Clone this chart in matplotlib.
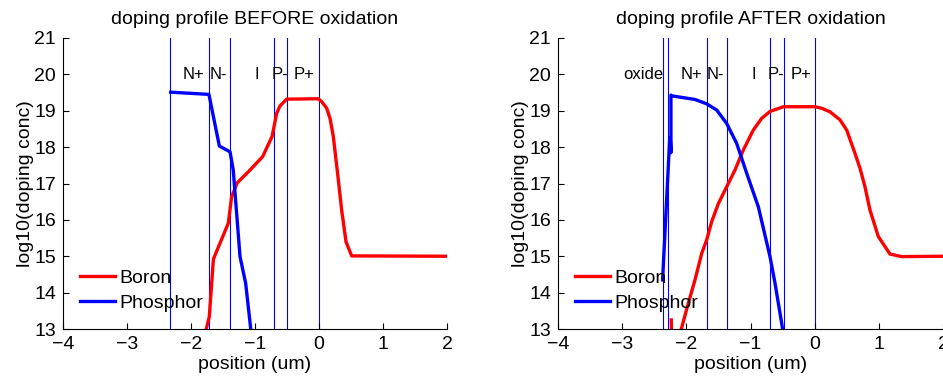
import matplotlib
matplotlib.use("Agg")
import matplotlib.pyplot as plt

plt.rcParams['font.family'] = ['Liberation Sans', 'DejaVu Sans']

# before oxidation
boron_x_before = [-1.78, -1.766, -1.714, -1.65, -1.417, -1.365, -1.277, -1.105, -0.88, -0.734,
                  -0.661, -0.61, -0.505, -0.01, 0.042, 0.12, 0.172, 0.224, 0.302, 0.354,
                  0.422, 0.51, 2.0]
boron_y_before = [12.8, 12.97, 13.34, 14.92, 15.91, 16.64, 17.02, 17.32, 17.74, 18.29,
                  18.93, 19.13, 19.32, 19.33, 19.25, 19.07, 18.79, 18.29, 17.10, 16.27,
                  15.40, 15.01, 15.0]
phos_x_before = [-2.317, -1.72, -1.557, -1.39, -1.34, -1.234, -1.146, -1.06]
phos_y_before = [19.51, 19.45, 18.03, 17.87, 17.37, 14.99, 14.26, 12.9]
lines_before = [-2.33, -1.72, -1.39, -0.70, -0.50, 0.0]
labels_before = ['N+', 'N-', 'I', 'P-', 'P+']
label_x_before = [-1.956, -1.578, -0.969, -0.617, -0.239]

# after oxidation
boron_x_after = [-2.235, -2.225, -2.15, -2.12, -2.083, -1.969, -1.865, -1.76, -1.683, -1.605,
                 -1.5, -1.371, -1.242, -1.112, -0.956, -0.826, -0.696, -0.489, 0.005,
                 0.109, 0.239, 0.395, 0.499, 0.628, 0.706, 0.784, 0.862, 0.992, 1.174,
                 1.356, 2.0]
boron_y_after = [13.25, 12.2, 12.3, 12.7, 12.97, 13.71, 14.35, 15.08, 15.45, 15.95,
                 16.45, 16.91, 17.37, 17.92, 18.47, 18.79, 18.98, 19.11, 19.11,
                 19.07, 18.97, 18.75, 18.47, 17.83, 17.42, 16.91, 16.27, 15.54, 15.06,
                 14.99, 15.0]
phos_x_after = [-2.37, -2.26, -2.25, -2.24, -2.24, -2.228, -1.865, -1.683, -1.527, -1.371,
                -1.215, -1.059, -0.878, -0.696, -0.618, -0.49]
phos_y_after = [14.35, 18.2, 18.25, 17.85, 19.43, 19.41, 19.31, 19.19, 19.02, 18.65,
                18.10, 17.28, 16.36, 14.99, 14.26, 12.9]
lines_after = [-2.36, -2.29, -1.68, -1.37, -0.69, -0.48, 0.0]
labels_after = ['oxide', 'N+', 'N-', 'I', 'P-', 'P+']
label_x_after = [-2.67, -1.917, -1.549, -0.946, -0.598, -0.216]

W, H = 943, 381
fig = plt.figure(figsize=(W / 100, H / 100), dpi=100)
ax1 = fig.add_axes([63 / W, 1 - 329 / H, 384 / W, 291 / H])
ax2 = fig.add_axes([558 / W, 1 - 329 / H, 385 / W, 291 / H])


def draw_panel(ax, bx, by, px, py, vlines, labels, label_x, title):
    for v in vlines:
        ax.plot([v, v], [13, 21], color='blue', lw=0.8, zorder=1)
    ax.plot(bx, by, color='red', lw=2.4, label='Boron', zorder=2)
    ax.plot(px, py, color='blue', lw=2.4, label='Phosphor', zorder=2)
    for t, x in zip(labels, label_x):
        ax.text(x, 20, t, ha='center', va='center', fontsize=12)
    ax.set_xlim(-4, 2)
    ax.set_ylim(13, 21)
    ax.set_xticks(range(-4, 3))
    ax.set_yticks(range(13, 22))
    ax.spines['top'].set_visible(False)
    ax.spines['right'].set_visible(False)
    ax.tick_params(direction='in', length=4, labelsize=14, pad=5)
    ax.set_title(title, fontsize=14, pad=10)
    ax.set_xlabel('position (um)', fontsize=14, labelpad=2)
    ax.set_ylabel('log10(doping conc)', fontsize=14, labelpad=0)
    ax.legend(loc='lower left', frameon=False, fontsize=14, handlelength=1.8,
              handletextpad=0.25, labelspacing=0.4, borderaxespad=0,
              borderpad=0, bbox_to_anchor=(0.044, 0.058))


draw_panel(ax1, boron_x_before, boron_y_before, phos_x_before, phos_y_before,
           lines_before, labels_before, label_x_before, 'doping profile BEFORE oxidation')
draw_panel(ax2, boron_x_after, boron_y_after, phos_x_after, phos_y_after,
           lines_after, labels_after, label_x_after, 'doping profile AFTER oxidation')

fig.savefig('out.png', dpi=100)
